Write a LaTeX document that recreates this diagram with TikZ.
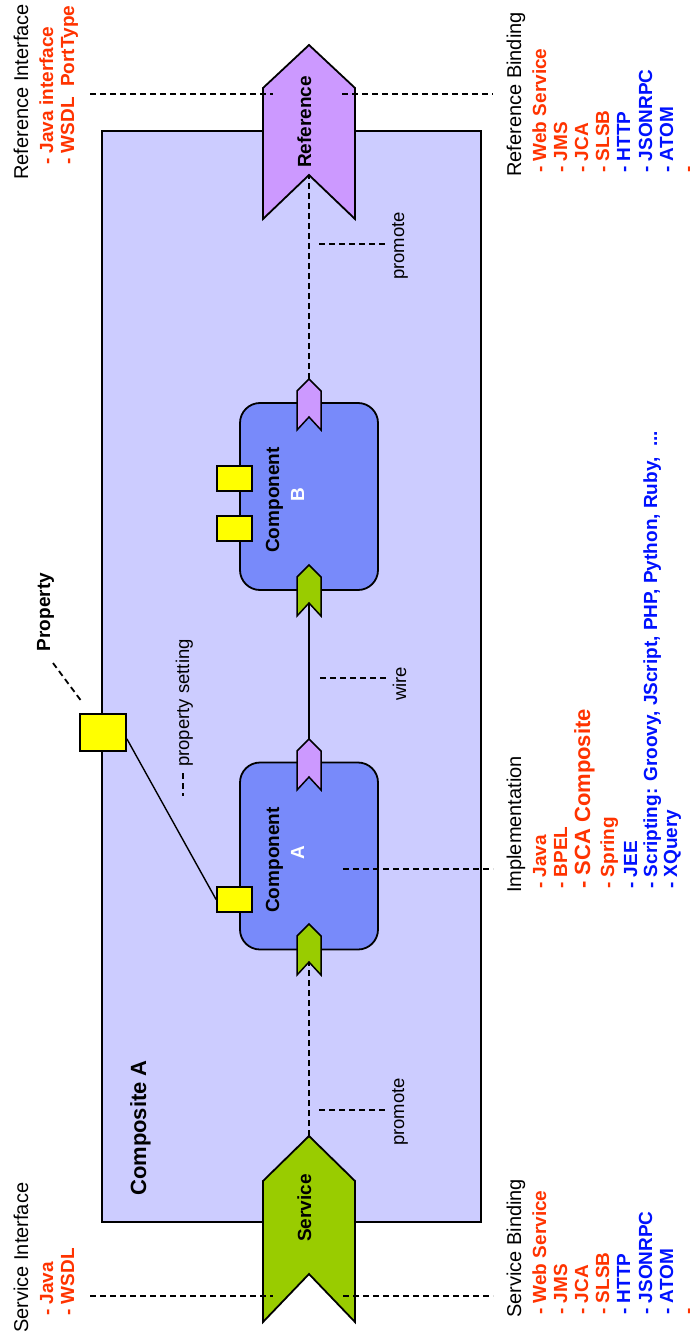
\documentclass[tikz,border=0pt]{standalone}
\usepackage{fontspec}
\setmainfont{Liberation Sans}
\definecolor{compositefill}{RGB}{204,204,255}
\definecolor{componentfill}{RGB}{120,138,250}
\definecolor{servicegreen}{RGB}{153,204,0}
\definecolor{refpurple}{RGB}{204,153,255}
\definecolor{propyellow}{RGB}{255,255,0}
\definecolor{listred}{RGB}{255,51,0}
\definecolor{listblue}{RGB}{0,17,255}
\begin{document}
\begin{tikzpicture}[x=1pt,y=-1pt,
  outline/.style={draw=black,line width=1.8pt,line join=miter},
  component/.style={outline,fill=componentfill,rounded corners=20pt,
    minimum width=138pt,minimum height=187pt,inner sep=0pt},
  propbox/.style={outline,fill=propyellow,inner sep=0pt},
  leader/.style={line width=1.8pt,dash pattern=on 6pt off 4pt},
  wireline/.style={line width=1.4pt},
  rlabel/.style={rotate=90,inner sep=0pt,anchor=base,font=\fontsize{18.5}{22}\selectfont},
  blabel/.style={rotate=90,inner sep=0pt,anchor=base,font=\fontsize{19}{23}\selectfont\bfseries},
  header/.style={rotate=90,inner sep=0pt,anchor=base west,font=\fontsize{20}{24}\selectfont},
  item/.style={rotate=90,inner sep=0pt,anchor=base west,font=\fontsize{19}{23}\selectfont\bfseries},
  redi/.style={item,text=listred},
  bluei/.style={item,text=listblue}]
\useasboundingbox (0,0) rectangle (689,1332);

% composite
\node (composite) [outline,fill=compositefill,minimum width=379pt,minimum height=1091pt,inner sep=0pt] at (291.5,676.5) {};
\node (compositelabel) [item,font=\fontsize{22}{26}\selectfont\bfseries] at (146,1196) {Composite A};

% service and reference chevrons
\draw[outline,fill=servicegreen] (263,1181) -- (309,1136) -- (355,1181) -- (355,1322) -- (309,1274) -- (263,1322) -- cycle;
\draw[outline,fill=refpurple] (263,88) -- (309,45) -- (355,88) -- (355,219) -- (309,175) -- (263,219) -- cycle;
\coordinate (svcTip) at (309,1136);
\coordinate (refNotch) at (309,175);
\node (svclabel) [blabel] at (311,1208) {Service};
\node (reflabel) [blabel] at (311,122) {Reference};

% components
\node (compA) [component] at (309,856) {};
\node (compB) [component] at (309,496.5) {};
\node (compAname) [blabel] at (279,860) {Component};
\node (compAletter) [blabel,text=white] at (304,853) {A};
\node (compBname) [blabel] at (279,500) {Component};
\node (compBletter) [blabel,text=white] at (304,495) {B};

% component ports (tip at top, notch at bottom)
\newcommand{\portshape}[3]{%
  \draw[outline,line width=1.5pt,fill=#1] (297,#2+12) -- (309,#2) -- (321,#2+12) -- (321,#2+51) -- (309,#2+38) -- (297,#2+51) -- cycle;
  \coordinate (#3Tip) at (309,#2);
  \coordinate (#3Notch) at (309,#2+38);}
\portshape{servicegreen}{924}{aSvc}
\portshape{refpurple}{739}{aRef}
\portshape{servicegreen}{565}{bSvc}
\portshape{refpurple}{379}{bRef}

% properties
\node (propA) [propbox,minimum width=35pt,minimum height=25pt] at (234.5,899.5) {};
\node (propB1) [propbox,minimum width=35pt,minimum height=25pt] at (234.5,478.5) {};
\node (propB2) [propbox,minimum width=35pt,minimum height=25pt] at (234.5,528.5) {};
\node (prop) [propbox,minimum width=46pt,minimum height=37pt] at (103,732.5) {};
\node (proplabel) [blabel] at (50,612) {Property};
\coordinate (propLeadA) at (53,663);
\coordinate (propLeadB) at (82,702);
\draw[leader] (propLeadA) -- (propLeadB);
\draw[wireline] (prop.-15) -- (propA.west);

% wires and promotions
\draw[wireline] (aRefTip) -- (bSvcNotch);
\draw[leader] (svcTip) -- (aSvcNotch);
\draw[leader] (bRefTip) -- (refNotch);

% connector labels
\node (setlabel) [rlabel] at (189,703) {property setting};
\coordinate (setLeadA) at (183,773);
\coordinate (setLeadB) at (183,796);
\draw[leader] (setLeadA) -- (setLeadB);

\node (wirelabel) [rlabel] at (406,684) {wire};
\coordinate (wireLeadA) at (320,678);
\coordinate (wireLeadB) at (387,678);
\draw[leader] (wireLeadA) -- (wireLeadB);

\node (promtop) [rlabel] at (404,246) {promote};
\coordinate (promTopA) at (319,244);
\coordinate (promTopB) at (387,244);
\draw[leader] (promTopA) -- (promTopB);

\node (prombot) [rlabel] at (404,1112) {promote};
\coordinate (promBotA) at (319,1110);
\coordinate (promBotB) at (387,1110);
\draw[leader] (promBotA) -- (promBotB);

% interface and binding guide lines
\coordinate (refL1) at (90,94);   \coordinate (refL2) at (273,94);
\coordinate (refR1) at (342,94);  \coordinate (refR2) at (493,94);
\coordinate (svcL1) at (90,1296); \coordinate (svcL2) at (273,1296);
\coordinate (svcR1) at (343,1296);\coordinate (svcR2) at (493,1296);
\coordinate (implA) at (343,869); \coordinate (implB) at (493,869);
\draw[leader] (refL1) -- (refL2);
\draw[leader] (refR1) -- (refR2);
\draw[leader] (svcL1) -- (svcL2);
\draw[leader] (svcR1) -- (svcR2);
\draw[leader] (implA) -- (implB);

% reference interface
\node (riHead) [header] at (28,180) {Reference Interface};
\node (ri1) [redi] at (53,165) {- Java interface};
\node (ri2) [redi] at (74,165) {- WSDL\ \ PortType};

% service interface
\node (siHead) [header] at (28,1333) {Service Interface};
\node (si1) [redi] at (53,1316) {- Java};
\node (si2) [redi] at (74,1316) {- WSDL};

% reference binding
\node (rbHead) [header] at (521,177) {Reference Binding};
\node (rb1) [redi] at (546,173) {- Web Service};
\node (rb2) [redi] at (567,173) {- JMS};
\node (rb3) [redi] at (588,173) {- JCA};
\node (rb4) [redi] at (609,173) {- SLSB};
\node (rb5) [bluei] at (630,173) {- HTTP};
\node (rb6) [bluei] at (652,173) {- JSONRPC};
\node (rb7) [bluei] at (673,173) {- ATOM};
\node (rb8) [redi] at (694,173) {-};

% service binding
\node (sbHead) [header] at (521,1318) {Service Binding};
\node (sb1) [redi] at (546,1315) {- Web Service};
\node (sb2) [redi] at (567,1315) {- JMS};
\node (sb3) [redi] at (588,1315) {- JCA};
\node (sb4) [redi] at (609,1315) {- SLSB};
\node (sb5) [bluei] at (630,1315) {- HTTP};
\node (sb6) [bluei] at (652,1315) {- JSONRPC};
\node (sb7) [bluei] at (673,1315) {- ATOM};
\node (sb8) [redi] at (694,1315) {-};

% implementation
\node (imHead) [header] at (521,893) {Implementation};
\node (im1) [redi] at (546,889) {- Java};
\node (im2) [redi] at (567,889) {- BPEL};
\node (im3) [redi,font=\fontsize{22}{26}\selectfont\bfseries] at (590,889) {- SCA Composite};
\node (im4) [redi] at (614,889) {- Spring};
\node (im5) [bluei] at (637,889) {- JEE};
\node (im6) [bluei] at (657,889) {- Scripting: Groovy, JScript, PHP, Python, Ruby,\ \ ...};
\node (im7) [bluei] at (677,889) {- XQuery};
\end{tikzpicture}
\end{document}
